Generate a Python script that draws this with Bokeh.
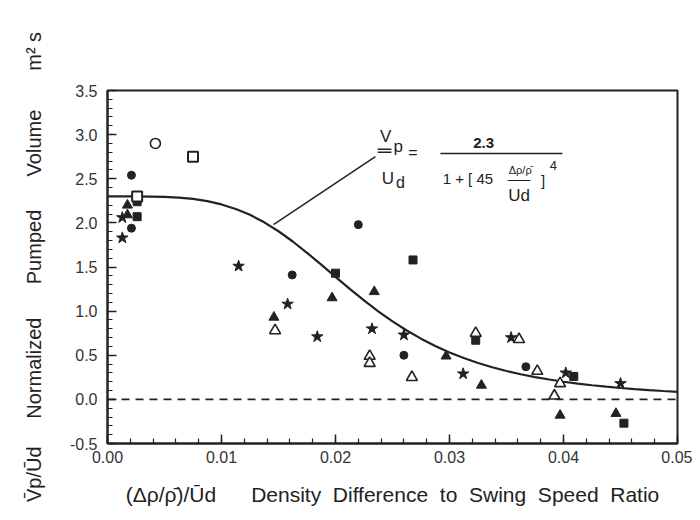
from bokeh.plotting import figure
from bokeh.models import Range1d, SingleIntervalTicker, PrintfTickFormatter, Label, Span
from bokeh.embed import file_html
from bokeh.resources import INLINE

# ---- data ----
star_x = [0.0013, 0.0013, 0.0115, 0.0158, 0.0184, 0.0232, 0.0260, 0.0312, 0.0354, 0.0402, 0.0450]
star_y = [2.06, 1.83, 1.51, 1.08, 0.71, 0.80, 0.73, 0.29, 0.70, 0.30, 0.18]

fcirc_x = [0.0021, 0.0021, 0.0162, 0.0220, 0.0260, 0.0367]
fcirc_y = [2.54, 1.94, 1.41, 1.98, 0.50, 0.37]

fsq_x = [0.0026, 0.0026, 0.0200, 0.0268, 0.0323, 0.0409, 0.0453]
fsq_y = [2.24, 2.07, 1.43, 1.58, 0.67, 0.26, -0.27]

ftri_x = [0.00175, 0.00175, 0.0146, 0.0197, 0.0234, 0.0297, 0.0328, 0.0397, 0.0446]
ftri_y = [2.20, 2.09, 0.93, 1.15, 1.22, 0.49, 0.16, -0.18, -0.16]

otri_x = [0.0147, 0.0230, 0.0230, 0.0267, 0.0323, 0.0361, 0.0377, 0.0397, 0.0392]
otri_y = [0.78, 0.49, 0.41, 0.25, 0.75, 0.68, 0.32, 0.18, 0.04]

ocirc_x = [0.0042]
ocirc_y = [2.90]

osq_x = [0.0026, 0.0075]
osq_y = [2.30, 2.75]

curve_x = [0.0, 0.00125, 0.0025, 0.00375, 0.005, 0.00625, 0.0075, 0.00875, 0.01, 0.01125,
           0.0125, 0.01375, 0.015, 0.01625, 0.0175, 0.01875, 0.02, 0.02125, 0.0225, 0.02375,
           0.025, 0.02625, 0.0275, 0.02875, 0.03, 0.03125, 0.0325, 0.03375, 0.035, 0.03625,
           0.0375, 0.03875, 0.04, 0.04125, 0.0425, 0.04375, 0.045, 0.04625, 0.0475, 0.04875, 0.05]
curve_y = [2.300, 2.300, 2.300, 2.298, 2.294, 2.286, 2.271, 2.246, 2.209, 2.158,
           2.091, 2.006, 1.905, 1.789, 1.661, 1.526, 1.389, 1.253, 1.121, 0.998,
           0.884, 0.781, 0.688, 0.605, 0.532, 0.468, 0.413, 0.364, 0.322, 0.285,
           0.253, 0.225, 0.200, 0.179, 0.160, 0.144, 0.129, 0.116, 0.105, 0.095, 0.086]

x_ticks_interval = 0.01
y_ticks_interval = 0.5

INK = "#222222"
FONT = "Liberation Sans"

p = figure(width=692, height=512, output_backend="svg", toolbar_location=None,
           x_range=Range1d(0, 0.05), y_range=Range1d(-0.5, 3.5),
           min_border_left=107, min_border_right=15, min_border_top=90, min_border_bottom=69)

p.background_fill_color = "white"
p.border_fill_color = "white"
p.outline_line_color = INK
p.outline_line_width = 2
p.xgrid.visible = False
p.ygrid.visible = False

p.xaxis.ticker = SingleIntervalTicker(interval=x_ticks_interval, num_minor_ticks=5)
p.yaxis.ticker = SingleIntervalTicker(interval=y_ticks_interval, num_minor_ticks=5)
p.xaxis.formatter = PrintfTickFormatter(format="%.2f")
p.yaxis.formatter = PrintfTickFormatter(format="%.1f")

for ax in (p.xaxis, p.yaxis):
    ax.axis_line_color = INK
    ax.axis_line_width = 2
    ax.major_tick_in = 9
    ax.major_tick_out = 0
    ax.minor_tick_in = 5
    ax.minor_tick_out = 0
    ax.major_tick_line_color = INK
    ax.minor_tick_line_color = INK
    ax.major_tick_line_width = 1.5
    ax.minor_tick_line_width = 1.2
    ax.major_label_text_font = FONT
    ax.major_label_text_font_size = "16px"
    ax.major_label_text_color = "#333333"
    ax.axis_label_text_font = FONT
    ax.axis_label_text_font_style = "normal"
    ax.axis_label_text_color = INK

p.xaxis.major_label_standoff = 7
p.yaxis.major_label_standoff = 10
nb = "\u00a0"
x_words = ["Density", "Difference", "to", "Swing", "Speed", "Ratio"]
p.xaxis.axis_label = "(Δρ/ρ̄)/Ūd" + nb * 6 + (nb * 2).join(x_words)
p.xaxis.axis_label_text_font_size = "21px"
p.xaxis.axis_label_standoff = 17
p.yaxis.axis_label = ("V̄p/Ūd" + nb * 5 + "Normalized" + nb * 6 + "Pumped" + nb * 6 +
                      "Volume" + nb * 7 + "m² s")
p.yaxis.axis_label_text_font_size = "20px"
p.yaxis.axis_label_standoff = 22

# zero line
p.add_layout(Span(location=0, dimension="width", line_color=INK, line_width=1.6,
                  line_dash="8 6"))

# fitted curve
p.line(curve_x, curve_y, line_color=INK, line_width=2.2)

# markers
p.scatter(star_x, star_y, marker="star", size=12, fill_color=INK, line_color=INK)
p.scatter(fcirc_x, fcirc_y, marker="circle", size=8, fill_color=INK, line_color=INK)
p.scatter(fsq_x, fsq_y, marker="square", size=8, fill_color=INK, line_color=INK)
p.scatter(ftri_x, ftri_y, marker="triangle", size=10, fill_color=INK, line_color=INK)
p.scatter(otri_x, otri_y, marker="triangle", size=11, fill_color="white", line_color=INK, line_width=1.6)
p.scatter(ocirc_x, ocirc_y, marker="circle", size=10, fill_color="white", line_color=INK, line_width=1.6)
p.scatter(osq_x, osq_y, marker="square", size=10, fill_color="white", line_color=INK, line_width=2)

# leader line to formula
p.line([0.01456, 0.0235], [1.98, 2.75], line_color=INK, line_width=1.5)

# formula
def lab(x, y, t, size="16px", align="center", style="normal"):
    p.add_layout(Label(x=x, y=y, text=t, text_font=FONT, text_font_size=size,
                       text_color=INK, text_align=align, text_baseline="middle",
                       text_font_style=style))

lab(0.0244, 2.98, "V", size="17px")
lab(0.0255, 2.86, "p", size="17px")
lab(0.0246, 2.50, "U", size="17px")
lab(0.0257, 2.46, "d", size="16px")
p.line([0.0237, 0.0249], [2.835, 2.835], line_color=INK, line_width=1.5)
p.line([0.0237, 0.0249], [2.80, 2.80], line_color=INK, line_width=1.5)
lab(0.0268, 2.80, "=", size="16px")
lab(0.0330, 2.90, "2.3", size="15px", style="bold")
p.line([0.0292, 0.0399], [2.786, 2.786], line_color=INK, line_width=1.5)
lab(0.0294, 2.50, "1 + [ 45", size="15px", align="left")
lab(0.0362, 2.60, "Δρ/ρ̄", size="11px")
p.line([0.0351, 0.0371], [2.48, 2.48], line_color=INK, line_width=1.2)
lab(0.0361, 2.31, "Ud", size="17px")
lab(0.0382, 2.48, "]", size="15px")
lab(0.0391, 2.65, "4", size="13px")

open("out.html", "w").write(file_html(p, INLINE))
